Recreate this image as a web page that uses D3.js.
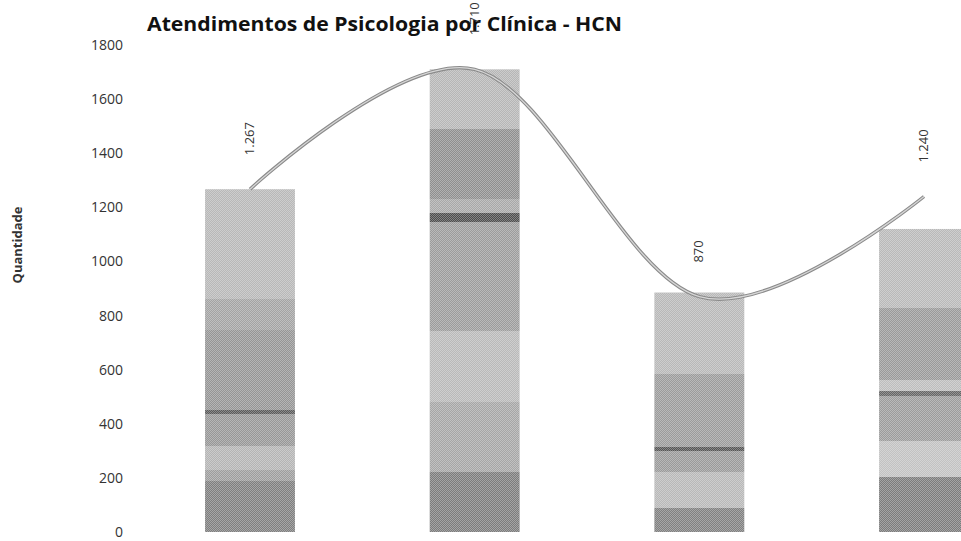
<!DOCTYPE html>
<html lang="pt">
  <head>
    <meta charset="UTF-8" />
    <title>Atendimentos de Psicologia por Clínica - HCN</title>
    <style>
      * {
        margin: 0;
        padding: 0;
      }
      body {
        background: #fff;
      }
      text {
        font-family: "Open Sans", "Noto Sans", sans-serif;
      }
    </style>
  </head>
  <body>
    <script src="https://cdn.jsdelivr.net/npm/d3@7"></script>
    <script>
      // dados
      const clinicas = ["Clínica A", "Clínica B", "Clínica C", "Clínica D"];
      const barras = [1267, 1710, 885, 1120];
      const linha = [1267, 1710, 870, 1240];
      const yTicks = [0, 200, 400, 600, 800, 1000, 1200, 1400, 1600, 1800];

      // faixas de cinza de cada barra (aparência da cópia escaneada)
      const faixasBarra = [
        [[0, "#b8b8b8"], [0.32, "#a3a3a3"], [0.41, "#959595"], [0.645, "#5a5a5a"], [0.657, "#979797"], [0.75, "#b4b4b4"], [0.82, "#9d9d9d"], [0.85, "#7f7f7f"]],
        [[0, "#b6b6b6"], [0.13, "#8f8f8f"], [0.28, "#a8a8a8"], [0.31, "#4e4e4e"], [0.33, "#9c9c9c"], [0.565, "#b9b9b9"], [0.72, "#a6a6a6"], [0.87, "#7c7c7c"]],
        [[0, "#b8b8b8"], [0.34, "#9b9b9b"], [0.645, "#555555"], [0.66, "#9a9a9a"], [0.75, "#b8b8b8"], [0.9, "#808080"]],
        [[0, "#b9b9b9"], [0.26, "#9a9a9a"], [0.5, "#bdbdbd"], [0.535, "#666666"], [0.55, "#9c9c9c"], [0.7, "#c2c2c2"], [0.82, "#7c7c7c"]],
      ];

      const W = 961,
        H = 541;
      const svg = d3.select("body").append("svg").attr("width", W).attr("height", H);
      const defs = svg.append("defs");

      const x = d3.scalePoint().domain(clinicas).range([250, 924]);
      const y = d3.scaleLinear().domain([0, 1800]).range([532, 45]);
      const barW = x.step() * 0.4;
      const ptBR = d3.formatLocale({ decimal: ",", thousands: ".", grouping: [3], currency: ["R$", ""] });
      const fmt = ptBR.format(",d");

      faixasBarra.forEach((faixas, b) => {
        const grad = defs
          .append("linearGradient")
          .attr("id", "faixas" + b)
          .attr("x1", 0)
          .attr("y1", 0)
          .attr("x2", 0)
          .attr("y2", 1);
        faixas.forEach((f, i) => {
          grad.append("stop").attr("offset", f[0]).attr("stop-color", f[1]);
          const fim = i < faixas.length - 1 ? faixas[i + 1][0] : 1;
          grad.append("stop").attr("offset", fim).attr("stop-color", f[1]);
        });
      });
      const pat = defs.append("pattern").attr("id", "pontos").attr("width", 2).attr("height", 2).attr("patternUnits", "userSpaceOnUse");
      pat.append("rect").attr("width", 1).attr("height", 1).attr("fill", "#fff").attr("opacity", 0.3);
      pat.append("rect").attr("x", 1).attr("y", 1).attr("width", 1).attr("height", 1).attr("fill", "#fff").attr("opacity", 0.3);

      // eixo y
      const yAxis = svg
        .append("g")
        .attr("transform", "translate(123,0)")
        .call(d3.axisLeft(y).tickValues(yTicks).tickFormat(d3.format("d")).tickSize(0).tickPadding(0));
      yAxis.select(".domain").remove();
      yAxis.selectAll("text").attr("font-size", 14).attr("fill", "#333").attr("font-family", '"Open Sans", sans-serif');

      svg
        .append("text")
        .text("Quantidade")
        .attr("transform", "translate(22,245) rotate(-90)")
        .attr("text-anchor", "middle")
        .attr("font-size", 13)
        .attr("font-weight", "bold")
        .attr("fill", "#333");

      // barras
      const g = svg.append("g");
      g.selectAll("rect.bar")
        .data(barras)
        .join("rect")
        .attr("class", "bar")
        .attr("x", (d, i) => x(clinicas[i]) - barW / 2)
        .attr("y", (d) => y(d))
        .attr("width", barW)
        .attr("height", (d) => y(0) - y(d))
        .attr("fill", (d, i) => `url(#faixas${i})`);
      g.selectAll("rect.dot")
        .data(barras)
        .join("rect")
        .attr("class", "dot")
        .attr("x", (d, i) => x(clinicas[i]) - barW / 2)
        .attr("y", (d) => y(d))
        .attr("width", barW)
        .attr("height", (d) => y(0) - y(d))
        .attr("fill", "url(#pontos)");

      // linha suavizada
      const line = d3
        .line()
        .x((d, i) => x(clinicas[i]))
        .y((d) => y(d))
        .curve(d3.curveCardinal.tension(0));
      svg.append("path").datum(linha).attr("d", line).attr("fill", "none").attr("stroke", "#8a8a8a").attr("stroke-width", 3.5);
      svg.append("path").datum(linha).attr("d", line).attr("fill", "none").attr("stroke", "#d6d6d6").attr("stroke-width", 1.3);

      // título
      svg
        .append("text")
        .text("Atendimentos de Psicologia por Clínica - HCN")
        .attr("x", 147)
        .attr("y", 31)
        .attr("font-size", 19)
        .attr("font-weight", "bold")
        .attr("fill", "#111")
        .attr("textLength", 475)
        .attr("lengthAdjust", "spacingAndGlyphs");

      // rótulos (por cima do título, como na cópia)
      svg
        .selectAll("text.rotulo")
        .data(linha)
        .join("text")
        .attr("class", "rotulo")
        .text((d) => fmt(d))
        .attr("transform", (d, i) => `translate(${x(clinicas[i]) + 4},${y(d) - 34}) rotate(-90)`)
        .attr("font-size", 13)
        .attr("fill", "#333");
    </script>
  </body>
</html>
